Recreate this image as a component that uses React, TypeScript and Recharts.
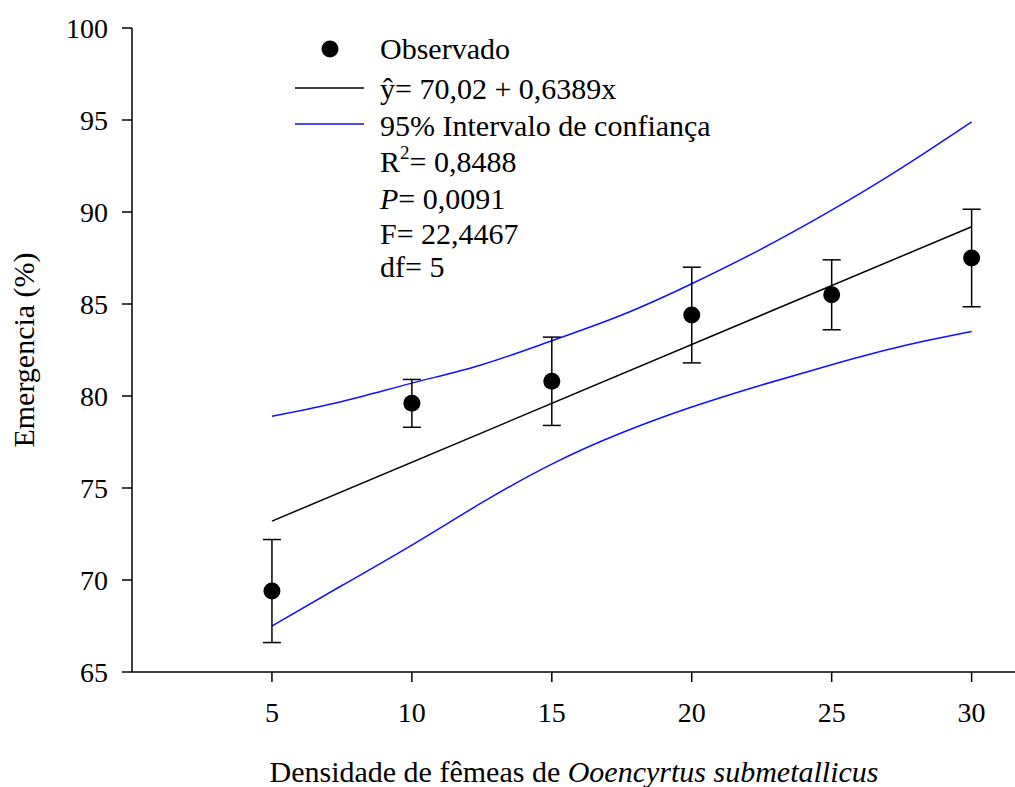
import React from "react";
import { ComposedChart, Line, Scatter, ErrorBar, XAxis, YAxis } from "recharts";

// eixos
const xTicks = [5, 10, 15, 20, 25, 30];
const yTicks = [65, 70, 75, 80, 85, 90, 95, 100];

// observado (média ± erro)
const densidade = [5, 10, 15, 20, 25, 30];
const emergencia = [69.4, 79.6, 80.8, 84.4, 85.5, 87.5];
const erro = [2.8, 1.3, 2.4, 2.6, 1.9, 2.65];

// reta ajustada
const ajusteX = [5, 30];
const ajusteY = [73.2, 89.2];

// intervalo de confiança 95%
const icX = [5, 7.5, 10, 12.5, 15, 17.5, 20, 22.5, 25, 27.5, 30];
const icSup = [78.9, 79.7, 80.7, 81.7, 83.0, 84.4, 86.1, 88.0, 90.1, 92.4, 94.9];
const icInf = [67.5, 69.7, 71.9, 74.2, 76.3, 78.0, 79.4, 80.6, 81.7, 82.7, 83.5];

const FONT = "Liberation Serif, DejaVu Serif, serif";
const FS = 28; // ticks
const FT = 30; // legenda e títulos
const BLUE = "#1010ff";

const obsData = densidade.map((x, i) => ({ x, y: emergencia[i], err: erro[i] }));
const ajusteData = ajusteX.map((x, i) => ({ x, y: ajusteY[i] }));
const supData = icX.map((x, i) => ({ x, y: icSup[i] }));
const infData = icX.map((x, i) => ({ x, y: icInf[i] }));

const Dot = (p: any) => <circle cx={p.cx} cy={p.cy} r={8.5} fill="#000" />;

const Overlay = () => (
  <svg
    width={1015}
    height={787}
    style={{ position: "absolute", left: 0, top: 0, pointerEvents: "none" }}
    fontFamily={FONT}
    fontSize={FT}
  >
    {/* legenda */}
    <circle cx={330} cy={49} r={8.5} fill="#000" />
    <text x={380} y={59}>Observado</text>
    <line x1={295} x2={364} y1={88} y2={88} stroke="#000" strokeWidth={1.5} />
    <text x={380} y={99}>ŷ= 70,02 + 0,6389x</text>
    <line x1={295} x2={364} y1={124} y2={124} stroke={BLUE} strokeWidth={1.5} />
    <text x={380} y={136}>95% Intervalo de confiança</text>
    <text x={380} y={172}>
      R<tspan dy={-13} fontSize={19}>2</tspan>
      <tspan dy={13}>= 0,8488</tspan>
    </text>
    <text x={380} y={209}>
      <tspan fontStyle="italic">P</tspan>= 0,0091
    </text>
    <text x={380} y={244}>F= 22,4467</text>
    <text x={380} y={277}>df= 5</text>

    {/* títulos dos eixos */}
    <text x={574} y={782} textAnchor="middle">
      Densidade de fêmeas de <tspan fontStyle="italic">Ooencyrtus submetallicus</tspan>
    </text>
    <text x={34} y={350} textAnchor="middle" transform="rotate(-90, 34, 350)">
      Emergencia (%)
    </text>
  </svg>
);

export default function App() {
  return (
    <div
      style={{
        position: "absolute",
        left: 0,
        top: 0,
        width: 1015,
        height: 787,
        background: "#fff",
        fontFamily: FONT,
      }}
    >
      <ComposedChart
        width={1015}
        height={787}
        margin={{ top: 28, right: 0, bottom: 0, left: 0 }}
      >
        <XAxis
          type="number"
          dataKey="x"
          domain={[0, 31.55]}
          ticks={xTicks}
          allowDataOverflow
          height={115}
          tickSize={10}
          tickMargin={20}
          stroke="#000"
          strokeWidth={1.5}
          tick={{ fill: "#000", fontSize: FS, fontFamily: FONT }}
        />
        <YAxis
          type="number"
          domain={[65, 100]}
          ticks={yTicks}
          width={132}
          tickSize={10}
          tickMargin={14}
          stroke="#000"
          strokeWidth={1.5}
          tick={{ fill: "#000", fontSize: FS, fontFamily: FONT }}
        />
        <Line
          data={supData}
          dataKey="y"
          type="natural"
          dot={false}
          stroke={BLUE}
          strokeWidth={1.5}
          isAnimationActive={false}
        />
        <Line
          data={infData}
          dataKey="y"
          type="natural"
          dot={false}
          stroke={BLUE}
          strokeWidth={1.5}
          isAnimationActive={false}
        />
        <Line
          data={ajusteData}
          dataKey="y"
          type="linear"
          dot={false}
          stroke="#000"
          strokeWidth={1.5}
          isAnimationActive={false}
        />
        <Scatter data={obsData} dataKey="y" shape={Dot} isAnimationActive={false}>
          <ErrorBar
            dataKey="err"
            direction="y"
            width={9}
            stroke="#000"
            strokeWidth={1.5}
            isAnimationActive={false}
          />
        </Scatter>
      </ComposedChart>
      <Overlay />
    </div>
  );
}
